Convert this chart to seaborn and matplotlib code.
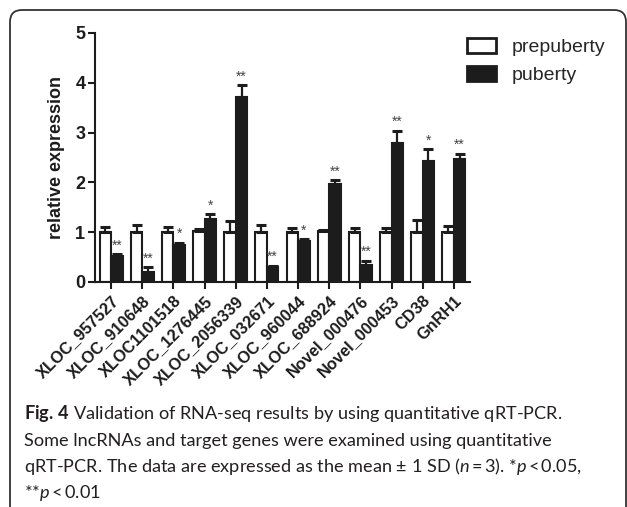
import numpy as np
import pandas as pd
import matplotlib
matplotlib.use("Agg")
import matplotlib.pyplot as plt
import seaborn as sns
from matplotlib import font_manager
from matplotlib.patches import FancyBboxPatch, Patch

categories = ['XLOC_957527', 'XLOC_910648', 'XLOC1101518', 'XLOC_1276445',
              'XLOC_2056339', 'XLOC_032671', 'XLOC_960044', 'XLOC_688924',
              'Novel_000476', 'Novel_000453', 'CD38', 'GnRH1']
prepuberty = [1.00, 1.00, 1.00, 1.02, 1.00, 1.00, 1.00, 1.02, 1.00, 1.00, 1.00, 1.00]
prepuberty_sd = [0.10, 0.15, 0.10, 0.04, 0.22, 0.15, 0.08, 0.03, 0.09, 0.08, 0.25, 0.13]
puberty = [0.52, 0.21, 0.74, 1.26, 3.72, 0.30, 0.82, 1.96, 0.35, 2.80, 2.42, 2.47]
puberty_sd = [0.04, 0.09, 0.05, 0.10, 0.24, 0.03, 0.04, 0.09, 0.08, 0.24, 0.25, 0.11]
significance = ['**', '**', '*', '*', '**', '**', '*', '**', '**', '**', '*', '**']
groups = ['prepuberty', 'puberty']
y_ticks = [0, 1, 2, 3, 4, 5]

sns.set_theme(style="ticks")
names = {f.name for f in font_manager.fontManager.ttflist}
chart_font = 'Liberation Sans' if 'Liberation Sans' in names else 'DejaVu Sans'
cap_font = 'Liberation Sans Narrow' if 'Liberation Sans Narrow' in names else 'Lato'
cap_size = 14 if cap_font == 'Liberation Sans Narrow' else 13.1
plt.rcParams['font.family'] = [chart_font, 'DejaVu Sans']
plt.rcParams['mathtext.fontset'] = 'custom'
plt.rcParams['mathtext.rm'] = cap_font
plt.rcParams['mathtext.it'] = cap_font + ':italic'
plt.rcParams['mathtext.bf'] = cap_font + ':bold'

DARK = '#1c1c1c'
W, H = 627, 507
fig = plt.figure(figsize=(W / 100, H / 100), dpi=100)

df = pd.DataFrame({
    'gene': categories * 2,
    'group': ['prepuberty'] * len(categories) + ['puberty'] * len(categories),
    'value': prepuberty + puberty,
})

ax = fig.add_axes([95 / W, 1 - 282 / H, (470 - 95) / W, (282 - 33) / H])
sns.barplot(data=df, x='gene', y='value', hue='group', order=categories,
            hue_order=groups, palette={'prepuberty': 'white', 'puberty': DARK},
            edgecolor=DARK, linewidth=1.5, width=0.74, errorbar=None,
            legend=False, ax=ax, zorder=2)

# error bars (upper only), positioned at the seaborn bar centres
bars = [p for p in ax.patches]
n = len(categories)
pre_bars, pub_bars = bars[:n], bars[n:]
for blist, vals, sds in [(pre_bars, prepuberty, prepuberty_sd), (pub_bars, puberty, puberty_sd)]:
    xs = [b.get_x() + b.get_width() / 2 for b in blist]
    ax.errorbar(xs, vals, yerr=[np.zeros(n), sds], fmt='none', ecolor=DARK,
                elinewidth=1.6, capsize=3.5, capthick=2.2, zorder=3)

for b, v, s, sig in zip(pub_bars, puberty, puberty_sd, significance):
    ax.text(b.get_x() + b.get_width() / 2, v + s + 0.03, sig, ha='center', va='bottom',
            fontsize=10, color='#444444', zorder=4)

ax.set_ylim(0, 5)
ax.set_xlim(-0.52, n - 0.48)
ax.set_yticks(y_ticks)
ax.set_yticklabels([str(t) for t in y_ticks], fontsize=13, fontweight='bold', color=DARK)
ax.set_xticks(range(n))
ax.set_xticklabels(categories, rotation=45, ha='right', rotation_mode='anchor',
                   fontsize=11.8, fontweight='bold', color=DARK)
ax.set_xlabel('')
ax.set_ylabel('relative expression', fontsize=13, fontweight='bold', color=DARK, labelpad=7)
ax.tick_params(axis='both', direction='out', length=5, width=1.5, color=DARK, pad=2)
ax.tick_params(axis='x', pad=3)
for side in ['top', 'right']:
    ax.spines[side].set_visible(False)
for side in ['left', 'bottom']:
    ax.spines[side].set_linewidth(1.5)
    ax.spines[side].set_color(DARK)
ax.set_facecolor('none')

handles = [Patch(facecolor='white', edgecolor=DARK, linewidth=2),
           Patch(facecolor=DARK, edgecolor=DARK, linewidth=2)]
fig.legend(handles, groups, loc='upper left', bbox_to_anchor=(467 / W, 1 - 38 / H),
           frameon=False, fontsize=14, handlelength=1.5, handleheight=0.8,
           handletextpad=0.8, labelspacing=0.5, borderpad=0, borderaxespad=0)

# rounded border (left and top visible)
border = FancyBboxPatch((10, -20), 616, H + 10, boxstyle='round,pad=0,rounding_size=12',
                        transform=None, facecolor='none', edgecolor='#333333',
                        linewidth=1.3, clip_on=False)
fig.add_artist(border)

# caption
cap_lines = [
    r"$\mathbf{Fig.}\,\mathbf{4}$ Validation of RNA-seq results by using quantitative qRT-PCR.",
    r"Some lncRNAs and target genes were examined using quantitative",
    r"qRT-PCR. The data are expressed as the mean ± 1 SD ($\mathit{n}\,$=$\,$3). *$\mathit{p}\,$<$\,$0.05,",
    r"**$\mathit{p}\,$<$\,$0.01",
]
baselines = [419, 446, 472, 498]
for txt, yb in zip(cap_lines, baselines):
    fig.text(24 / W, 1 - yb / H, txt, ha='left', va='baseline', fontsize=cap_size,
             family=[cap_font, 'DejaVu Sans'], color='#231f20')

fig.savefig('out.png', dpi=100)
